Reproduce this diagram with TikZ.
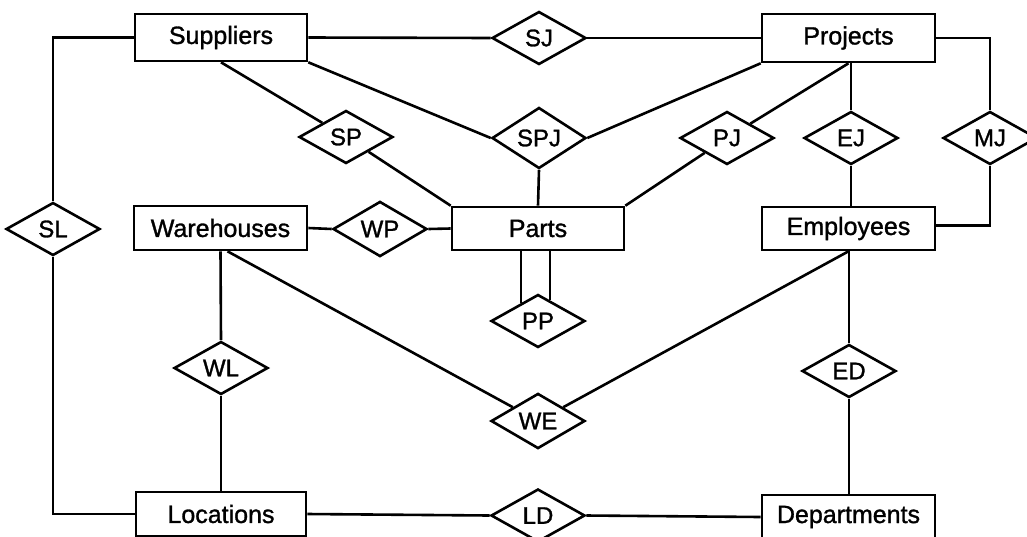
\documentclass[tikz,border=0pt]{standalone}
\usepackage{fontspec}
\setmainfont{Liberation Sans}
\newfontfamily\labfont{Liberation Sans}[FakeBold=1.2]
\usetikzlibrary{shapes.geometric,calc}
\begin{document}
\begin{tikzpicture}[x=1pt,y=-1pt, line width=2.6pt,
 entity/.style={draw, rectangle, minimum width=172pt, minimum height=44pt, inner sep=0pt, font=\labfont\fontsize{25}{30}\selectfont},
 rel/.style={draw, diamond, minimum width=94pt, minimum height=53pt, inner sep=0pt, font=\labfont\fontsize{24}{30}\selectfont},
 conn/.style={line width=2.6pt}]
\useasboundingbox (0,0) rectangle (1027,536);
\clip (0,0) rectangle (1027,536);
% entities
\node[entity, minimum height=47pt] (sup) at (221,37.5) {Suppliers};
\node[entity, minimum height=48pt, minimum width=173pt] (proj) at (848.5,38) {Projects};
\node[entity, minimum width=173pt] (wh) at (220.5,228) {Warehouses};
\node[entity, minimum height=43pt] (parts) at (538,228.5) {Parts};
\node[entity, minimum height=43pt, minimum width=173pt] (emp) at (848.5,228.5) {Employees};
\node[entity, minimum width=170pt] (loc) at (221,514) {Locations};
\node[entity, minimum width=173pt] (dep) at (848.5,517) {Departments};
% relationships
\node[rel] (sj) at (539,38) {SJ};
\node[rel] (sp) at (346,137) {SP};
\node[rel] (spj) at (539,138) {SPJ};
\node[rel] (pj) at (727,138) {PJ};
\node[rel] (ej) at (851,138) {EJ};
\node[rel] (mj) at (990,138) {MJ};
\node[rel] (sl) at (53,229) {SL};
\node[rel] (wp) at (380,229) {WP};
\node[rel] (pp) at (538,321) {PP};
\node[rel] (wl) at (221,368) {WL};
\node[rel] (we) at (538,421) {WE};
\node[rel] (ed) at (849,371) {ED};
\node[rel] (ld) at (538,515.5) {LD};
% connectors
\draw[conn] (sup.west) -| (sl.north);
\draw[conn] (sl.south) |- (loc.west);
\draw[conn] (sup.east) -- (sj.west);
\draw[conn] (sj.east) -- (proj.west);
\draw[conn] (sup.south) -- (sp);
\draw[conn] (sp) -- (parts.north west);
\draw[conn] (sup.south east) -- (spj.west);
\draw[conn] (spj.east) -- (proj.south west);
\draw[conn] (spj.south) -- (parts.north);
\draw[conn] (proj.south) -- (pj);
\draw[conn] (pj) -- (parts.north east);
\draw[conn] (ej.north) -- (ej.north |- proj.south);
\draw[conn] (ej.south) -- (ej.south |- emp.north);
\draw[conn] (proj.east) -| (mj.north);
\draw[conn] (mj.south) |- ([yshift=3pt]emp.east);
\draw[conn] (wh.east) -- (wp.west);
\draw[conn] (wp.east) -- (parts.west);
\coordinate (ppl) at ($(pp.north)!0.35!(pp.west)$);
\coordinate (ppr) at ($(pp.north)!0.25!(pp.east)$);
\draw[conn] (ppl |- parts.south) -- (ppl);
\draw[conn] (ppr |- parts.south) -- (ppr);
\draw[conn] (wh.south) -- (wl.north);
\draw[conn] (wl.south) -- (loc.north);
\coordinate (whs) at ([xshift=7pt]wh.south);
\draw[conn] (whs) -- (we);
\draw[conn] (emp.south) -- (we);
\draw[conn] (ed.north) -- (ed.north |- emp.south);
\draw[conn] (ed.south) -- (ed.south |- dep.north);
\draw[conn] (loc.east) -- (ld.west);
\draw[conn] (ld.east) -- (dep.west);
\end{tikzpicture}
\end{document}
